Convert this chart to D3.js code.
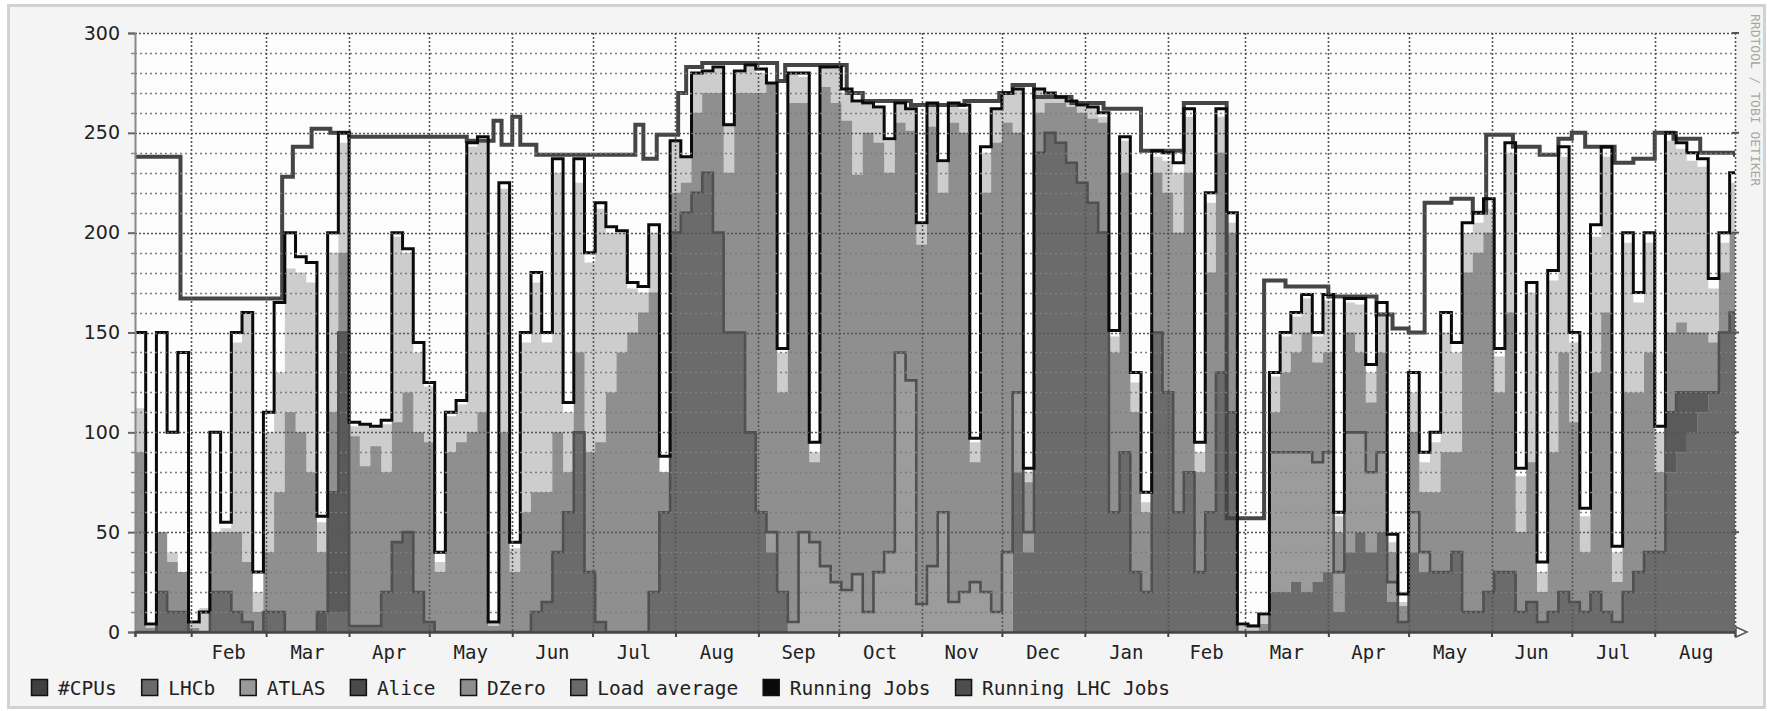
<!DOCTYPE html>
<html>
<head>
<meta charset="utf-8">
<script src="https://cdn.jsdelivr.net/npm/d3@7"></script>
<style>
  html, body { margin: 0; padding: 0; background: #fff; }
  svg { display: block; }
</style>
</head>
<body>
<script>
// samples every 4 days starting 2007-01-11
const start = new Date(Date.UTC(2007, 0, 11));
const end = new Date(Date.UTC(2008, 7, 31));
const stepDays = 4;

const running = [150,4,150,100,140,5,10,100,55,150,
  160,30,110,165,200,188,185,58,200,250,
  105,104,103,106,200,192,145,125,40,110,
  116,245,248,5,225,45,150,180,150,237,
  115,237,190,215,203,201,175,173,204,88,
  246,238,280,281,283,254,281,284,282,275,
  142,280,280,95,283,283,272,266,265,263,
  247,265,262,205,265,236,265,264,97,243,
  262,270,272,82,272,270,268,266,264,263,
  260,151,248,130,70,241,240,235,262,95,
  220,262,210,4,3,9,130,150,160,169,
  150,169,60,167,167,134,165,49,19,130,
  90,100,160,145,205,210,217,142,245,82,
  175,35,181,243,150,62,204,243,43,200,
  170,200,103,250,245,240,237,177,200,230];

const loadAvg = [112,3,50,40,30,4,12,50,52,145,
  160,20,100,130,182,180,175,55,190,245,
  103,104,102,104,198,190,140,123,35,108,
  114,243,245,4,222,42,145,175,145,230,
  110,225,185,212,200,200,172,170,200,80,
  246,238,280,280,282,255,280,283,280,275,
  140,280,278,90,283,282,270,265,264,262,
  246,264,262,204,264,235,264,262,95,240,
  262,270,272,80,272,270,268,266,263,262,
  258,148,246,125,65,238,236,230,258,90,
  215,258,205,3,4,8,128,148,158,167,
  148,166,58,165,164,130,160,45,15,120,
  85,95,150,140,200,205,212,138,240,78,
  170,30,176,238,145,58,198,238,40,195,
  165,195,100,246,242,236,233,172,195,225];

const lhcb = [0,0,20,10,10,0,0,20,20,10,
  5,0,10,10,0,0,0,0,10,10,
  3,3,3,20,45,50,20,5,0,0,
  0,0,0,0,0,0,0,10,15,40,
  60,100,30,5,0,0,0,0,20,60,
  200,210,220,230,200,150,150,100,60,40,
  20,0,0,0,0,0,0,0,0,0,
  0,0,0,0,0,0,0,0,0,0,
  0,0,80,40,240,250,245,235,225,215,
  200,60,90,30,20,150,120,60,80,30,
  60,130,110,0,0,0,20,20,25,20,
  25,30,10,40,50,40,50,15,5,40,
  30,30,30,40,10,10,20,30,30,10,
  15,5,10,20,15,10,20,10,5,20,
  30,40,40,80,90,100,110,120,150,160];

const atlas = [0,0,0,0,0,0,0,0,0,0,
  0,0,0,0,0,0,0,0,0,0,
  0,0,0,0,0,0,0,0,0,0,
  0,0,0,0,0,0,0,0,0,0,
  0,0,0,0,0,0,0,0,0,0,
  0,0,0,0,0,0,0,0,0,10,
  0,5,50,45,33,25,21,29,10,30,
  40,140,126,14,33,60,15,20,25,20,
  10,40,40,10,0,0,0,0,0,0,
  0,0,0,0,0,0,0,0,0,0,
  0,0,0,0,0,0,70,70,65,70,
  60,60,20,60,50,40,40,10,0,20,
  10,0,0,0,0,0,0,0,0,0,
  0,0,0,0,0,0,0,0,0,0,
  0,0,0,0,0,0,0,0,0,0];

const alice = [0,0,0,0,0,0,0,0,0,0,
  0,0,0,0,0,0,0,10,60,140,
  0,0,0,0,0,0,0,0,0,0,
  0,0,0,0,0,0,0,0,0,0,
  0,0,0,0,0,0,0,0,0,0,
  0,0,0,0,0,0,0,0,0,0,
  0,0,0,0,0,0,0,0,0,0,
  0,0,0,0,0,0,0,0,0,0,
  0,0,0,0,0,0,0,0,0,0,
  0,0,0,0,0,0,0,0,0,0,
  0,0,0,0,0,0,0,0,0,0,
  0,0,0,0,0,0,0,0,0,0,
  0,0,0,0,0,0,0,0,0,0,
  0,0,0,0,0,0,0,0,0,0,
  0,0,0,30,30,20,10,0,0,0];

const dzero = [90,2,30,25,20,2,0,30,30,40,
  30,10,30,60,110,100,80,30,40,40,
  95,80,90,60,60,70,80,90,30,90,
  95,100,110,3,100,30,60,60,55,60,
  20,40,60,90,120,140,150,160,150,20,
  20,15,40,40,70,80,120,170,210,225,
  100,260,215,40,240,240,235,200,240,215,
  190,115,125,180,220,160,240,230,60,200,
  235,215,130,25,20,15,20,28,35,42,
  55,80,140,80,40,80,100,140,150,50,
  120,110,90,0,0,4,20,40,50,60,
  50,50,20,50,40,35,50,15,8,40,
  30,40,60,50,170,180,180,90,130,40,
  70,15,80,120,90,30,110,150,20,100,
  90,100,40,40,35,30,30,25,30,40];

// #CPUs is a step function: [date, value]
const cpuSteps = [
  ["2007-01-11",238],["2007-01-28",167],["2007-03-07",228],["2007-03-11",243],
  ["2007-03-18",252],["2007-03-25",250],["2007-04-01",248],["2007-05-15",246],
  ["2007-05-25",256],["2007-05-28",244],["2007-06-01",258],["2007-06-04",244],
  ["2007-06-10",239],["2007-07-17",254],["2007-07-20",237],
  ["2007-07-25",249],["2007-08-02",270],["2007-08-05",283],["2007-08-11",285],
  ["2007-09-08",276],["2007-09-11",284],["2007-10-04",270],["2007-10-10",266],
  ["2007-10-28",264],["2007-11-17",266],["2007-11-30",270],["2007-12-05",274],
  ["2007-12-13",268],["2007-12-27",265],["2008-01-08",262],["2008-01-22",241],
  ["2008-02-07",265],["2008-02-23",57],["2008-03-08",176],["2008-03-16",173],
  ["2008-04-01",168],["2008-04-19",159],["2008-04-25",152],["2008-05-01",150],
  ["2008-05-07",215],["2008-05-17",217],["2008-05-25",210],["2008-05-30",249],
  ["2008-06-09",243],["2008-06-19",239],["2008-06-26",247],["2008-07-01",250],
  ["2008-07-06",243],["2008-07-17",235],["2008-07-24",237],["2008-08-01",250],
  ["2008-08-08",247],["2008-08-18",240],["2008-08-31",238]
];

const yTicks = [0, 50, 100, 150, 200, 250, 300];
const legendItems = [
  { label: "#CPUs", color: "#404040" },
  { label: "LHCb", color: "#6a6a6a" },
  { label: "ATLAS", color: "#999999" },
  { label: "Alice", color: "#4a4a4a" },
  { label: "DZero", color: "#8e8e8e" },
  { label: "Load average", color: "#6a6a6a" },
  { label: "Running Jobs", color: "#0a0a0a" },
  { label: "Running LHC Jobs", color: "#4e4e4e" }
];

const W = 1768, H = 711;
const margin = { left: 135, right: 33, top: 33, bottom: 79 };
const plotW = W - margin.left - margin.right;   // 1600
const plotH = H - margin.top - margin.bottom;   // 599

const svg = d3.select("body").append("svg")
  .attr("width", W).attr("height", H);

// canvas + frame
svg.append("rect")
  .attr("x", 8.5).attr("y", 5.5).attr("width", W - 12).attr("height", H - 9)
  .attr("fill", "#f4f4f4").attr("stroke", "#d2d2d2").attr("stroke-width", 3);

const g = svg.append("g").attr("transform", `translate(${margin.left},${margin.top})`);

const x = d3.scaleUtc().domain([start, end]).range([0, plotW]);
const y = d3.scaleLinear().domain([0, 300]).range([plotH, 0]);

g.append("rect").attr("width", plotW).attr("height", plotH).attr("fill", "#fdfdfd");

g.append("clipPath").attr("id", "clip")
  .append("rect").attr("width", plotW).attr("height", plotH);

// rows for the stepped series, closed at the end of the time range
const rows = running.map((v, i) => ({
  date: d3.utcDay.offset(start, i * stepDays),
  running: v, load: loadAvg[i],
  lhcb: lhcb[i], atlas: atlas[i], alice: alice[i], dzero: dzero[i]
}));
rows.push(Object.assign({}, rows[rows.length - 1], { date: end }));

const keys = ["lhcb", "atlas", "alice", "dzero"];
const fills = { lhcb: "#6b6b6b", atlas: "#9c9c9c", alice: "#5a5a5a", dzero: "#8f8f8f" };
const stacked = d3.stack().keys(keys)(rows);

const plot = g.append("g").attr("clip-path", "url(#clip)");

// load average as light area behind the stack
plot.append("path").datum(rows)
  .attr("fill", "#cdcdcd")
  .attr("d", d3.area().curve(d3.curveStepAfter)
    .x(d => x(d.date)).y0(y(0)).y1(d => y(d.load)));

plot.selectAll(".layer").data(stacked).join("path")
  .attr("class", "layer")
  .attr("fill", d => fills[d.key])
  .attr("d", d3.area().curve(d3.curveStepAfter)
    .x(d => x(d.data.date)).y0(d => y(d[0])).y1(d => y(d[1])));

// grid
const minor = d3.range(10, 300, 10).filter(v => v % 50 !== 0);
g.append("g").selectAll("line").data(minor).join("line")
  .attr("x1", 0).attr("x2", plotW)
  .attr("y1", d => Math.round(y(d)) + 0.5).attr("y2", d => Math.round(y(d)) + 0.5)
  .attr("stroke", "#7e7e7e").attr("stroke-width", 1.3).attr("stroke-dasharray", "2,3");
g.append("g").selectAll("line").data(yTicks.slice(1)).join("line")
  .attr("x1", 0).attr("x2", plotW)
  .attr("y1", d => Math.round(y(d)) + 0.5).attr("y2", d => Math.round(y(d)) + 0.5)
  .attr("stroke", "#555").attr("stroke-width", 1.6).attr("stroke-dasharray", "2,2");

const months = d3.utcMonth.range(d3.utcMonth.ceil(start), end);
g.append("g").selectAll("line").data(months.concat([end])).join("line")
  .attr("x1", d => Math.round(x(d)) + 0.5).attr("x2", d => Math.round(x(d)) + 0.5)
  .attr("y1", 0).attr("y2", plotH)
  .attr("stroke", "#555").attr("stroke-width", 1.6).attr("stroke-dasharray", "2,2");

// lines
const lhcTop = stacked[2];
plot.append("path").datum(lhcTop)
  .attr("fill", "none").attr("stroke", "#505050").attr("stroke-width", 2.6)
  .attr("d", d3.line().curve(d3.curveStepAfter)
    .x(d => x(d.data.date)).y(d => y(d[1])));

const cpuData = cpuSteps.map(([d, v]) => ({ date: new Date(d + "T00:00:00Z"), v }));
plot.append("path").datum(cpuData)
  .attr("fill", "none").attr("stroke", "#454545").attr("stroke-width", 4)
  .attr("d", d3.line().curve(d3.curveStepAfter).x(d => x(d.date)).y(d => y(d.v)));

plot.append("path").datum(rows)
  .attr("fill", "none").attr("stroke", "#0a0a0a").attr("stroke-width", 3)
  .attr("d", d3.line().curve(d3.curveStepAfter).x(d => x(d.date)).y(d => y(d.running)));

// y axis
const yAxis = d3.axisLeft(y).tickValues(yTicks).tickSize(7).tickPadding(8);
const ya = g.append("g").call(yAxis);
ya.select(".domain").attr("stroke", "#888").attr("stroke-width", 2);
ya.selectAll(".tick line").attr("stroke", "#666").attr("stroke-width", 2);
ya.selectAll("text").attr("font-family", "DejaVu Sans").attr("font-size", 19).attr("fill", "#222");
g.append("g").selectAll("line").data(minor).join("line")
  .attr("x1", -4).attr("x2", 0)
  .attr("y1", d => Math.round(y(d)) + 0.5).attr("y2", d => Math.round(y(d)) + 0.5)
  .attr("stroke", "#888").attr("stroke-width", 1.5);
// right side ticks
g.append("g").selectAll("line").data(yTicks).join("line")
  .attr("x1", plotW - 3).attr("x2", plotW + 4)
  .attr("y1", d => y(d)).attr("y2", d => y(d))
  .attr("stroke", "#555").attr("stroke-width", 2);

// x axis
const xAxis = d3.axisBottom(x).tickValues(months).tickSize(5).tickFormat("");
const xa = g.append("g").attr("transform", `translate(0,${plotH})`).call(xAxis);
xa.select(".domain").attr("stroke", "#444").attr("stroke-width", 2.5);
xa.selectAll(".tick line").attr("stroke", "#444").attr("stroke-width", 2);
const monthMid = months.map(m => new Date((+m + +d3.utcMonth.offset(m, 1)) / 2));
g.append("g").selectAll("text").data(monthMid).join("text")
  .attr("x", d => x(d)).attr("y", plotH + 27)
  .attr("text-anchor", "middle")
  .attr("font-family", "DejaVu Sans Mono").attr("font-size", 19).attr("fill", "#222")
  .text(d => d3.utcFormat("%b")(d))
  .filter(d => x(d) > plotW - 20).remove();

// arrow at end of x axis
g.append("path")
  .attr("d", `M${plotW + 1},${plotH - 5} L${plotW + 12},${plotH} L${plotW + 1},${plotH + 5} Z`)
  .attr("fill", "#fff").attr("stroke", "#555").attr("stroke-width", 1.5);

// watermark
svg.append("text")
  .attr("transform", "translate(1751,14) rotate(90)")
  .attr("font-family", "DejaVu Sans Mono").attr("font-size", 13).attr("fill", "#a6a6a6")
  .text("RRDTOOL / TOBI OETIKER");

// legend
const leg = svg.append("g").attr("transform", "translate(31,688)");
let lx = 0;
legendItems.forEach(item => {
  leg.append("rect").attr("x", lx + 0.5).attr("y", -8.5).attr("width", 16).attr("height", 16)
    .attr("fill", item.color).attr("stroke", "#111").attr("stroke-width", 1.5);
  const t = leg.append("text").attr("x", lx + 27).attr("y", 7)
    .attr("font-family", "DejaVu Sans Mono").attr("font-size", 19.5).attr("fill", "#222")
    .text(item.label);
  lx += 27 + t.node().getComputedTextLength() + 24.5;
});
</script>
</body>
</html>
